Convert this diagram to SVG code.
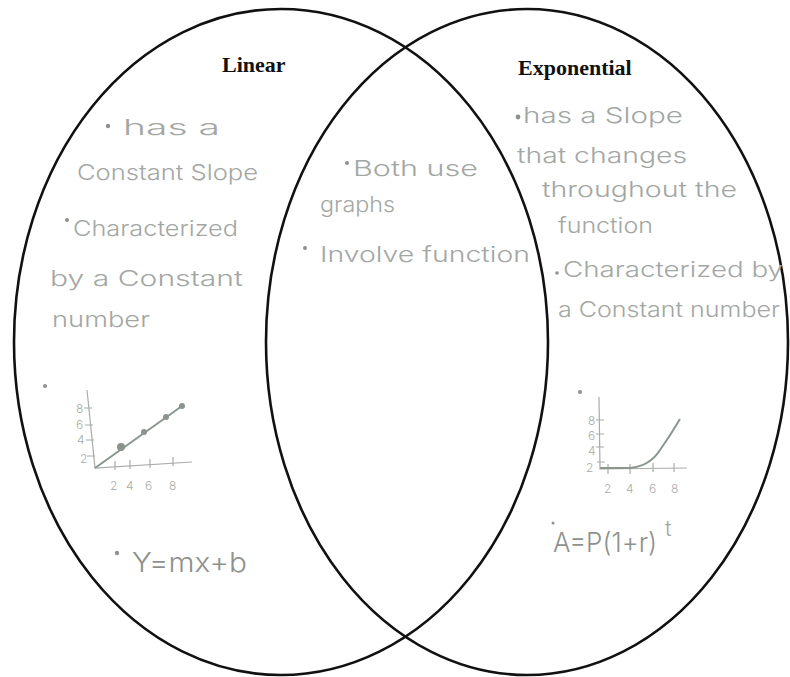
<svg xmlns="http://www.w3.org/2000/svg" width="790" height="677" viewBox="0 0 790 677">
<style>
.ring{fill:none;stroke:#111;stroke-width:2.6}
.title{font-family:"Liberation Serif",serif;font-weight:bold;font-size:22px;fill:#111}
.hand{font-family:Inter,"Liberation Sans",sans-serif;font-weight:300;font-size:22px;fill:#a3a7a3}
.formula{font-family:Inter,"Liberation Sans",sans-serif;font-weight:300;font-size:27px;fill:#8e928e}
.tick{font-family:Inter,"Liberation Sans",sans-serif;font-weight:300;font-size:12px;fill:#a8aca8}
.dot{fill:#8c928c}
.ax{fill:none;stroke:#a8aca8;stroke-width:1.2}
.plot{fill:none;stroke:#8a968e;stroke-width:2}
</style>
<rect width="790" height="677" fill="#fff"/>
<g id="sets">
<ellipse id="linear-set" class="ring" cx="281" cy="342" rx="267" ry="333"/>
<ellipse id="exponential-set" class="ring" cx="527" cy="342" rx="261" ry="333"/>
</g>
<g id="linear">
<text class="title" x="222" y="72">Linear</text>
<circle class="dot" cx="108" cy="126" r="2.2"/>
<text class="hand" x="123" y="135" textLength="97" lengthAdjust="spacingAndGlyphs">has  a</text>
<text class="hand" x="77" y="180" textLength="181" lengthAdjust="spacingAndGlyphs">Constant Slope</text>
<circle class="dot" cx="67" cy="220" r="2"/>
<text class="hand" x="73" y="236" textLength="165" lengthAdjust="spacingAndGlyphs">Characterized</text>
<text class="hand" x="50" y="286" textLength="193" lengthAdjust="spacingAndGlyphs">by  a  Constant</text>
<text class="hand" x="52" y="327" textLength="98" lengthAdjust="spacingAndGlyphs">number</text>
<g id="linear-graph">
<circle class="dot" cx="45" cy="386" r="2"/>
<path class="ax" d="M87 390 L95 468 L192 462"/>
<path class="ax" d="M84 408 H92 M85 425 H93 M86 440 H94 M87 456 H95 M115 461 V470 M130 460 V469 M150 459 V468 M173 457 V466"/>
<text class="tick" x="76" y="413">8</text>
<text class="tick" x="76" y="429">6</text>
<text class="tick" x="77" y="444">4</text>
<text class="tick" x="80" y="463">2</text>
<text class="tick" x="110" y="490">2</text>
<text class="tick" x="126" y="490">4</text>
<text class="tick" x="145" y="490">6</text>
<text class="tick" x="169" y="490">8</text>
<path class="plot" d="M95 468 L182 406"/>
<circle class="dot" cx="121" cy="447" r="4"/>
<circle class="dot" cx="144" cy="432" r="3"/>
<circle class="dot" cx="166" cy="417" r="3"/>
<circle class="dot" cx="182" cy="406" r="3"/>
</g>
<circle class="dot" cx="117" cy="553" r="2.2"/>
<text class="formula" x="132" y="572" font-size="31" textLength="115" lengthAdjust="spacingAndGlyphs">Y=mx+b</text>
</g>
<g id="both">
<circle class="dot" cx="347" cy="163" r="2"/>
<text class="hand" x="353" y="176" textLength="125" lengthAdjust="spacingAndGlyphs">Both  use</text>
<text class="hand" x="320" y="212" textLength="75" lengthAdjust="spacingAndGlyphs">graphs</text>
<circle class="dot" cx="305" cy="248" r="2"/>
<text class="hand" x="320" y="262" textLength="210" lengthAdjust="spacingAndGlyphs">Involve function</text>
</g>
<g id="exponential">
<text class="title" x="518" y="75">Exponential</text>
<circle class="dot" cx="518" cy="117" r="2.4"/>
<text class="hand" x="523" y="123" textLength="160" lengthAdjust="spacingAndGlyphs">has  a  Slope</text>
<text class="hand" x="517" y="163" textLength="170" lengthAdjust="spacingAndGlyphs">that  changes</text>
<text class="hand" x="542" y="197" textLength="195" lengthAdjust="spacingAndGlyphs">throughout  the</text>
<text class="hand" x="558" y="233" textLength="95" lengthAdjust="spacingAndGlyphs">function</text>
<circle class="dot" cx="557" cy="273" r="1.8"/>
<text class="hand" x="563" y="277" textLength="220" lengthAdjust="spacingAndGlyphs">Characterized  by</text>
<text class="hand" x="558" y="317" textLength="222" lengthAdjust="spacingAndGlyphs">a  Constant  number</text>
<g id="exponential-graph">
<circle class="dot" cx="580" cy="392" r="2"/>
<path class="ax" d="M599 397 L600 469 L687 468"/>
<path class="ax" d="M596 420 H604 M596 434 H604 M596 447 H604 M597 462 H605 M608 464 V474 M630 464 V474 M653 463 V472 M674 463 V472"/>
<text class="tick" x="588" y="425">8</text>
<text class="tick" x="588" y="440">6</text>
<text class="tick" x="588" y="455">4</text>
<text class="tick" x="586" y="472">2</text>
<text class="tick" x="604" y="493">2</text>
<text class="tick" x="626" y="493">4</text>
<text class="tick" x="649" y="493">6</text>
<text class="tick" x="671" y="493">8</text>
<path class="plot" d="M600 468 L630 468 Q650 466 660 450 Q670 436 680 419"/>
</g>
<circle class="dot" cx="553" cy="523" r="1.5"/>
<text class="formula" x="553" y="552" textLength="104" lengthAdjust="spacingAndGlyphs">A=P(1+r)</text>
<text class="hand" x="665" y="536" font-size="15">t</text>
</g>
</svg>
